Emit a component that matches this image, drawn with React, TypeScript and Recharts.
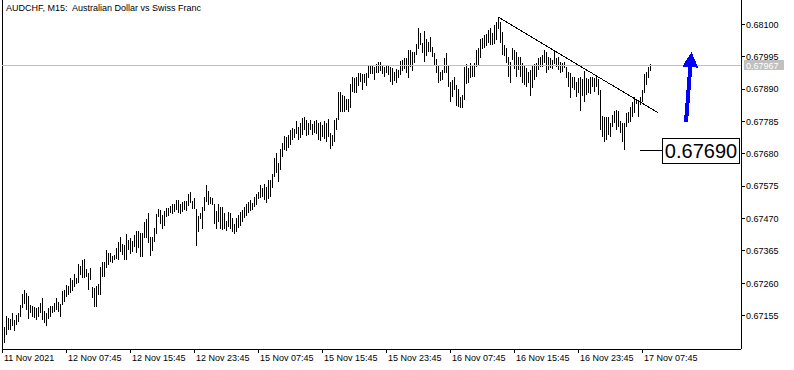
import React from 'react';
import { ComposedChart, Bar, XAxis, YAxis, ReferenceLine } from 'recharts';

const FONT = '"Liberation Sans", Arial, sans-serif';

// M15 bars, high / low per bar (oldest first)
const barHighs = [
  0.67119, 0.67154, 0.67147, 0.67144, 0.67163, 0.67141, 0.67158, 0.67163, 0.67190, 0.67226, 0.67239, 0.67228, 0.67219, 0.67190, 0.67187, 0.67184,
  0.67181, 0.67184, 0.67195, 0.67214, 0.67170, 0.67163, 0.67179, 0.67187, 0.67187, 0.67197, 0.67212, 0.67201, 0.67193, 0.67235, 0.67239, 0.67255,
  0.67251, 0.67278, 0.67271, 0.67290, 0.67276, 0.67323, 0.67316, 0.67336, 0.67338, 0.67306, 0.67293, 0.67309, 0.67249, 0.67244, 0.67251, 0.67257,
  0.67312, 0.67330, 0.67330, 0.67368, 0.67359, 0.67359, 0.67349, 0.67352, 0.67374, 0.67395, 0.67410, 0.67388, 0.67384, 0.67420, 0.67401, 0.67407,
  0.67397, 0.67417, 0.67430, 0.67430, 0.67423, 0.67423, 0.67459, 0.67469, 0.67488, 0.67410, 0.67410, 0.67440, 0.67485, 0.67501, 0.67498, 0.67482,
  0.67495, 0.67504, 0.67504, 0.67511, 0.67517, 0.67517, 0.67530, 0.67530, 0.67517, 0.67524, 0.67527, 0.67527, 0.67550, 0.67556, 0.67527, 0.67537,
  0.67501, 0.67478, 0.67488, 0.67508, 0.67540, 0.67579, 0.67560, 0.67540, 0.67537, 0.67517, 0.67495, 0.67517, 0.67508, 0.67508, 0.67488, 0.67462,
  0.67491, 0.67488, 0.67472, 0.67453, 0.67472, 0.67482, 0.67491, 0.67498, 0.67508, 0.67517, 0.67524, 0.67530, 0.67521, 0.67540, 0.67550, 0.67556,
  0.67579, 0.67569, 0.67582, 0.67573, 0.67595, 0.67595, 0.67615, 0.67667, 0.67683, 0.67650, 0.67696, 0.67715, 0.67738, 0.67735, 0.67741, 0.67757,
  0.67764, 0.67761, 0.67787, 0.67767, 0.67780, 0.67796, 0.67800, 0.67790, 0.67780, 0.67790, 0.67777, 0.67787, 0.67790, 0.67780, 0.67783, 0.67774,
  0.67787, 0.67780, 0.67793, 0.67748, 0.67741, 0.67790, 0.67796, 0.67881, 0.67881, 0.67871, 0.67868, 0.67858, 0.67858, 0.67907, 0.67929, 0.67926,
  0.67929, 0.67942, 0.67942, 0.67939, 0.67939, 0.67942, 0.67965, 0.67965, 0.67965, 0.67962, 0.67971, 0.67978, 0.67978, 0.67965, 0.67962, 0.67968,
  0.67965, 0.67962, 0.67958, 0.67945, 0.67955, 0.67952, 0.67981, 0.67984, 0.67991, 0.67991, 0.68017, 0.68017, 0.68010, 0.68010, 0.68036, 0.68088,
  0.68072, 0.68040, 0.68078, 0.68052, 0.68043, 0.68059, 0.68027, 0.68007, 0.67988, 0.67968, 0.67945, 0.67952, 0.67991, 0.68007, 0.67965, 0.67913,
  0.67920, 0.67929, 0.67903, 0.67890, 0.67864, 0.67871, 0.67962, 0.67971, 0.67958, 0.67975, 0.67968, 0.67975, 0.68017, 0.68023, 0.68052, 0.68056,
  0.68066, 0.68069, 0.68082, 0.68088, 0.68072, 0.68098, 0.68108, 0.68124, 0.68108, 0.68075, 0.68033, 0.68023, 0.67994, 0.67978, 0.68023, 0.68017,
  0.68010, 0.67994, 0.67994, 0.67975, 0.67965, 0.67958, 0.67945, 0.67952, 0.67965, 0.67971, 0.67975, 0.67991, 0.67994, 0.68001, 0.68017, 0.68010,
  0.67994, 0.67991, 0.67984, 0.68017, 0.67991, 0.67994, 0.67978, 0.67975, 0.67978, 0.67962, 0.67945, 0.67942, 0.67929, 0.67929, 0.67913, 0.67926,
  0.67929, 0.67923, 0.67949, 0.67926, 0.67923, 0.67929, 0.67929, 0.67926, 0.67933, 0.67923, 0.67887, 0.67803, 0.67800, 0.67800, 0.67800, 0.67780,
  0.67806, 0.67819, 0.67822, 0.67819, 0.67787, 0.67780, 0.67780, 0.67812, 0.67816, 0.67832, 0.67848, 0.67864, 0.67858, 0.67855, 0.67864, 0.67887,
  0.67939, 0.67945, 0.67962, 0.67971,
];

const barLows = [
  0.67067, 0.67093, 0.67109, 0.67109, 0.67120, 0.67107, 0.67125, 0.67136, 0.67152, 0.67179, 0.67193, 0.67174, 0.67144, 0.67163, 0.67152, 0.67147,
  0.67141, 0.67152, 0.67163, 0.67141, 0.67131, 0.67120, 0.67144, 0.67152, 0.67163, 0.67168, 0.67174, 0.67166, 0.67152, 0.67190, 0.67201, 0.67217,
  0.67222, 0.67228, 0.67236, 0.67249, 0.67258, 0.67260, 0.67287, 0.67276, 0.67278, 0.67282, 0.67239, 0.67271, 0.67212, 0.67182, 0.67184, 0.67222,
  0.67222, 0.67280, 0.67280, 0.67309, 0.67320, 0.67330, 0.67327, 0.67336, 0.67338, 0.67336, 0.67362, 0.67352, 0.67336, 0.67336, 0.67368, 0.67355,
  0.67362, 0.67378, 0.67359, 0.67375, 0.67346, 0.67346, 0.67407, 0.67407, 0.67391, 0.67349, 0.67365, 0.67394, 0.67420, 0.67475, 0.67453, 0.67436,
  0.67446, 0.67475, 0.67478, 0.67488, 0.67485, 0.67491, 0.67498, 0.67488, 0.67485, 0.67491, 0.67498, 0.67495, 0.67511, 0.67521, 0.67501, 0.67501,
  0.67381, 0.67427, 0.67469, 0.67436, 0.67495, 0.67524, 0.67514, 0.67517, 0.67514, 0.67453, 0.67436, 0.67459, 0.67436, 0.67433, 0.67436, 0.67430,
  0.67443, 0.67436, 0.67427, 0.67420, 0.67427, 0.67440, 0.67446, 0.67459, 0.67472, 0.67478, 0.67488, 0.67495, 0.67498, 0.67508, 0.67514, 0.67534,
  0.67537, 0.67540, 0.67530, 0.67521, 0.67534, 0.67540, 0.67569, 0.67605, 0.67618, 0.67589, 0.67628, 0.67670, 0.67692, 0.67689, 0.67699, 0.67709,
  0.67725, 0.67731, 0.67744, 0.67725, 0.67731, 0.67741, 0.67757, 0.67738, 0.67741, 0.67757, 0.67741, 0.67748, 0.67744, 0.67725, 0.67722, 0.67735,
  0.67728, 0.67718, 0.67735, 0.67696, 0.67705, 0.67718, 0.67757, 0.67790, 0.67816, 0.67816, 0.67816, 0.67822, 0.67816, 0.67829, 0.67881, 0.67877,
  0.67877, 0.67900, 0.67913, 0.67887, 0.67910, 0.67900, 0.67926, 0.67939, 0.67939, 0.67920, 0.67942, 0.67942, 0.67949, 0.67939, 0.67929, 0.67942,
  0.67936, 0.67913, 0.67903, 0.67916, 0.67910, 0.67926, 0.67936, 0.67949, 0.67955, 0.67942, 0.67926, 0.67962, 0.67949, 0.67975, 0.68001, 0.68020,
  0.68033, 0.68007, 0.67978, 0.67997, 0.68010, 0.68010, 0.67994, 0.67968, 0.67942, 0.67910, 0.67916, 0.67920, 0.67942, 0.67942, 0.67897, 0.67848,
  0.67864, 0.67887, 0.67835, 0.67832, 0.67829, 0.67829, 0.67855, 0.67907, 0.67910, 0.67926, 0.67929, 0.67929, 0.67962, 0.67965, 0.67991, 0.68020,
  0.68023, 0.68030, 0.68040, 0.68033, 0.68033, 0.68036, 0.68049, 0.68085, 0.68040, 0.68001, 0.67997, 0.67975, 0.67929, 0.67910, 0.67984, 0.67955,
  0.67929, 0.67952, 0.67929, 0.67910, 0.67903, 0.67897, 0.67910, 0.67868, 0.67894, 0.67920, 0.67929, 0.67952, 0.67962, 0.67962, 0.67975, 0.67942,
  0.67952, 0.67958, 0.67955, 0.67971, 0.67962, 0.67952, 0.67942, 0.67945, 0.67958, 0.67926, 0.67897, 0.67861, 0.67894, 0.67887, 0.67864, 0.67877,
  0.67819, 0.67868, 0.67848, 0.67871, 0.67877, 0.67874, 0.67897, 0.67881, 0.67897, 0.67871, 0.67757, 0.67735, 0.67718, 0.67725, 0.67741, 0.67735,
  0.67767, 0.67780, 0.67757, 0.67767, 0.67748, 0.67718, 0.67692, 0.67767, 0.67780, 0.67783, 0.67800, 0.67812, 0.67842, 0.67800, 0.67838, 0.67848,
  0.67877, 0.67903, 0.67926, 0.67950,
];

const timeLabels = [
  '11 Nov 2021', '12 Nov 07:45', '12 Nov 15:45', '12 Nov 23:45', '15 Nov 07:45', '15 Nov 15:45',
  '15 Nov 23:45', '16 Nov 07:45', '16 Nov 15:45', '16 Nov 23:45', '17 Nov 07:45',
];
const barsPerLabel = 32;

const priceTicks = [0.67155, 0.6726, 0.67365, 0.6747, 0.67575, 0.6768, 0.67785, 0.6789, 0.67995, 0.681];
const priceDomain = [0.67047, 0.68179];
const barDomain = [-0.25, 369.25];

const lastPrice = 0.67967;
const levelPrice = 0.6769;
const trendLine = [{ x: 247.75, y: 0.68124 }, { x: 327.6, y: 0.67814 }];
const levelLine = [{ x: 318.75, y: levelPrice }, { x: 329.75, y: levelPrice }];
const arrowLine = [{ x: 341.75, y: 0.67783 }, { x: 344.5, y: 0.6801 }];

const data = barHighs.map((h, i) => ({ x: i + 1, range: [barLows[i], h] }));
const timeTicks = timeLabels.map((_, k) => k * barsPerLabel);

function TimeTick(props: any) {
  const { x, y, payload } = props;
  return (
    <text x={x + 1.5} y={y} dy="0.71em" fontSize={9} fontFamily={FONT} fill="#000" textAnchor="start">
      {timeLabels[Math.round(payload.value / barsPerLabel)]}
    </text>
  );
}

function PriceTag(props: any) {
  const { viewBox } = props;
  const right = viewBox.x + viewBox.width;
  return (
    <g>
      <rect x={right + 3} y={viewBox.y - 5} width={40} height={10} fill="#c0c0c0" />
      <text x={right + 5} y={viewBox.y} dy="0.35em" fontSize={9} fontFamily={FONT} fill="#fff">
        {lastPrice.toFixed(5)}
      </text>
    </g>
  );
}

function LevelBox(props: any) {
  const { viewBox } = props;
  const left = viewBox.x + viewBox.width;
  return (
    <g>
      <rect x={left} y={viewBox.y - 12.5} width={77} height={25} fill="#fff" stroke="#000" />
      <text x={left + 39} y={viewBox.y} dy="0.36em" fontSize={20} fontFamily={FONT} fill="#000" textAnchor="middle">
        {levelPrice.toFixed(5)}
      </text>
    </g>
  );
}

function Arrow(props: any) {
  const { x1, y1, x2, y2 } = props;
  const len = Math.hypot(x2 - x1, y2 - y1);
  const ux = (x2 - x1) / len;
  const uy = (y2 - y1) / len;
  const bx = x2 - ux * 15;
  const by = y2 - uy * 15;
  const nx = -uy * 8;
  const ny = ux * 8;
  return (
    <g>
      <line x1={x1} y1={y1} x2={bx} y2={by} stroke="#0000ff" strokeWidth={4} />
      <polygon points={`${x2},${y2} ${bx + nx},${by + ny} ${bx - nx},${by - ny}`} fill="#0000ff" />
    </g>
  );
}

export default function App() {
  return (
    <div style={{ position: 'absolute', left: 0, top: 0, width: 794, height: 370, background: '#fff', shapeRendering: 'crispEdges' }}>
      <ComposedChart width={794} height={370} data={data} margin={{ top: 0, right: 0, bottom: 0, left: 2 }}>
        <XAxis
          dataKey="x"
          type="number"
          domain={barDomain}
          ticks={timeTicks}
          interval={0}
          height={21}
          tick={<TimeTick />}
          tickSize={4}
          tickMargin={2}
          axisLine={{ stroke: '#000' }}
          tickLine={{ stroke: '#000' }}
          allowDataOverflow
        />
        <YAxis
          orientation="right"
          type="number"
          width={53}
          domain={priceDomain}
          ticks={priceTicks}
          interval={0}
          tickFormatter={(v: number) => v.toFixed(5)}
          tick={{ fontSize: 9, fontFamily: FONT, fill: '#000' }}
          tickSize={4}
          tickMargin={1}
          axisLine={{ stroke: '#000' }}
          tickLine={{ stroke: '#000' }}
          allowDataOverflow
        />
        <ReferenceLine x={barDomain[0]} stroke="#000" />
        <ReferenceLine y={lastPrice} stroke="#c0c0c0" label={<PriceTag />} />
        <Bar dataKey="range" barSize={1} fill="#000" isAnimationActive={false} />
        <ReferenceLine segment={trendLine} stroke="#000" />
        <ReferenceLine segment={levelLine} stroke="#000" label={<LevelBox />} />
        <ReferenceLine segment={arrowLine} shape={Arrow} />
      </ComposedChart>
      <div
        style={{
          position: 'absolute', left: 6, top: 3, fontFamily: FONT, fontSize: 9, lineHeight: '11px',
          whiteSpace: 'pre', color: '#000',
        }}
      >
        {'AUDCHF, M15:  Australian Dollar vs Swiss Franc'}
      </div>
    </div>
  );
}
